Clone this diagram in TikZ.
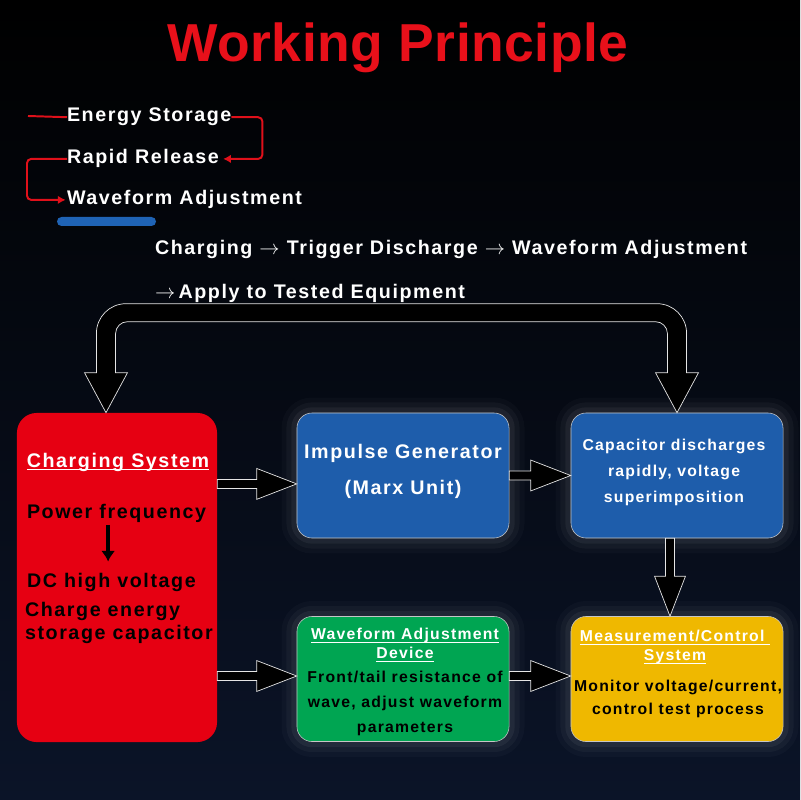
\documentclass[tikz,border=0pt]{standalone}
\usepackage{amsmath}
\usepackage{fontspec}
\setmainfont{Liberation Sans}[LetterSpace=8]
\newfontfamily\titlefont{Liberation Sans}[LetterSpace=1]
\usetikzlibrary{positioning,calc,arrows.meta}

\definecolor{titlered}{HTML}{E8101A}
\definecolor{chgred}{HTML}{E60012}
\definecolor{genblue}{HTML}{1E5DAB}
\definecolor{adjgreen}{HTML}{00A552}
\definecolor{meayellow}{HTML}{EFB800}
\definecolor{flowred}{HTML}{E0101A}
\definecolor{barblue}{HTML}{1F63B5}
\definecolor{bgnavy}{HTML}{0B1428}

\newcommand{\ra}{$\rightarrow$}

\tikzset{
  txt/.style={inner sep=0pt, outer sep=0pt, text=white},
  big/.style={font=\fontsize{14}{20}\selectfont\bfseries},
  box/.style={rounded corners=10.7pt, minimum width=5.3cm, minimum height=3.125cm, inner sep=0pt},
  glow/.style={preaction={draw=white, line width=22pt, opacity=0.025},
               preaction={draw=white, line width=15pt, opacity=0.035},
               preaction={draw=white, line width=8pt, opacity=0.05},
               draw=white!55!gray, line width=0.4pt},
  redflow/.style={draw=flowred, line width=1.4pt, rounded corners=3pt},
  redtip/.style={-{Latex[length=5.5pt,width=6pt]}},
  blackarr/.style={draw=black, line width=2.4pt, -{Latex[length=7.5pt,width=10pt]}},
  hollow/.style={draw=white!80!gray, fill=black, line width=0.5pt,
    to path={($(\tikztostart)!3.2pt!90:(\tikztotarget)$)
      -- ($($(\tikztotarget)!1cm!(\tikztostart)$)!3.2pt!90:(\tikztotarget)$)
      -- ($($(\tikztotarget)!1cm!(\tikztostart)$)!11pt!90:(\tikztotarget)$)
      -- (\tikztotarget)
      -- ($($(\tikztotarget)!1cm!(\tikztostart)$)!11pt!-90:(\tikztotarget)$)
      -- ($($(\tikztotarget)!1cm!(\tikztostart)$)!3.2pt!-90:(\tikztotarget)$)
      -- ($(\tikztostart)!3.2pt!-90:(\tikztotarget)$) -- cycle}},
}

\begin{document}
\begin{tikzpicture}[x=0.025cm, y=-0.025cm]
  \useasboundingbox (0,0) rectangle (800,800);
  \fill[top color=black, bottom color=bgnavy] (0,0) rectangle (800,800);

  % title and flow
  \node[txt, text=titlered, font=\titlefont\fontsize{38}{40}\selectfont\bfseries, anchor=base] (title) at (398,62) {Working Principle};
  \node[txt, big, anchor=base west] (es) at (67,122) {Energy Storage};
  \node[txt, big, anchor=base west] (rr) at (67,164) {Rapid Release};
  \node[txt, big, anchor=base west] (wa) at (67,205) {Waveform Adjustment};
  \coordinate (lead) at (28,116);
  \draw[redflow] (lead) -- (es.west);
  \draw[redflow, redtip] (es.east) -- ++(31,0) |- ([xshift=3pt]rr.east);
  \draw[redflow, redtip] (rr.west) -- ++(-40,0) |- ([xshift=-1pt]wa.west);
  \fill[barblue, rounded corners=3.2pt] (57,217) rectangle (156,226);

  \node[txt, big, anchor=base west] (chain) at (155,254) {Charging \ra{} Trigger Discharge \ra{} Waveform Adjustment};
  \node[txt, big, anchor=base west] (apply) at (155,298) {\ra{}\,Apply to Tested Equipment};

  % boxes
  \node[box, minimum width=5cm, minimum height=8.225cm, rounded corners=14pt, fill=chgred] (chg) at (117,577.5) {};
  \node[box, glow, fill=genblue] (imp) at (403,475.5) {};
  \node[box, glow, fill=genblue] (cap) at (677,475.5) {};
  \node[box, glow, fill=adjgreen] (wav) at (403,679) {};
  \node[box, glow, fill=meayellow] (mea) at (677,679) {};

  % charging system
  \node[txt, big, anchor=base] (chgtitle) at (118,467) {\underline{\smash[b]{Charging System}}};
  \node[txt, big, text=black, anchor=base west] (pf) at (27,518) {Power frequency};
  \node[txt, big, text=black, anchor=base west] (dc) at (27,587) {DC high voltage};
  \node[txt, text=black, font=\fontsize{14}{16.4}\selectfont\bfseries, align=left, anchor=north west] (ce) at (25,602.6) {Charge energy\\storage capacitor};
  \draw[blackarr, shorten <=2pt, shorten >=8pt] ([xshift=-6pt]pf.south) -- ([xshift=-6pt]pf.south |- dc.north);

  % other boxes
  \node[txt, font=\fontsize{14}{25.6}\selectfont\bfseries, align=center, anchor=north] (imptext) at (403,444.6) {Impulse Generator\\(Marx Unit)};
  \node[txt, font=\fontsize{11.2}{18.5}\selectfont\bfseries, align=center, anchor=north] (captext) at (674,439.5) {Capacitor discharges\\rapidly, voltage\\superimposition};
  \node[txt, font=\fontsize{11.2}{13.5}\selectfont\bfseries, align=center, anchor=north] (wavtitle) at (405,628.5) {\underline{\smash[b]{Waveform Adjustment}}\\\underline{\smash[b]{Device}}};
  \node[txt, text=black, font=\fontsize{11.2}{17.8}\selectfont\bfseries, align=center, anchor=north] (wavtext) at (405,671.5) {Front/tail resistance of\\wave, adjust waveform\\parameters};
  \node[txt, font=\fontsize{11.2}{13.5}\selectfont\bfseries, align=center, anchor=north] (meatitle) at (675,630.5) {\underline{\smash[b]{Measurement/Control~}}\\\underline{\smash[b]{System}}};
  \node[txt, text=black, font=\fontsize{11.2}{16.4}\selectfont\bfseries, align=center, anchor=north] (meatext) at (678,680.5) {Monitor voltage/current,\\control test process};

  % hollow arrows
  \coordinate (a1t) at ([yshift=-0.21cm]imp.west);
  \coordinate (a1s) at (a1t -| chg.east);
  \coordinate (a2t) at ([yshift=0.075cm]wav.west);
  \coordinate (a2s) at (a2t -| chg.east);
  \coordinate (a4t) at ([yshift=0.075cm]mea.west);
  \coordinate (a4s) at (a4t -| wav.east);
  \coordinate (a5s) at ([xshift=-0.175cm]cap.south);
  \coordinate (a5t) at (a5s |- mea.north);
  \draw[hollow] (a1s) to (a1t);
  \draw[hollow] (a2s) to (a2t);
  \draw[hollow] (imp.east) to (cap.west);
  \draw[hollow] (a4s) to (a4t);
  \draw[hollow] (a5s) to (a5t);

  % return loop
  \draw[draw=white!80!gray, fill=black, line width=0.5pt]
    let \p1=([xshift=-0.275cm]chg.north), \p2=(cap.north) in
    (\p1) -- (\x1-15.3pt,\y1+28.45pt) -- (\x1-6.8pt,\y1+28.45pt) -- (\x1-6.8pt,\y1+56.5pt)
    arc[start angle=180, end angle=90, radius=21pt] -- (\x2-14.2pt,\y1+77.5pt)
    arc[start angle=90, end angle=0, radius=21pt] -- (\x2+6.8pt,\y1+28.45pt)
    -- (\x2+15.3pt,\y1+28.45pt) -- (\x2,\y1) -- (\x2-15.3pt,\y1+28.45pt) -- (\x2-6.8pt,\y1+28.45pt)
    -- (\x2-6.8pt,\y1+56.2pt) arc[start angle=0, end angle=90, radius=8.5pt]
    -- (\x1+15.3pt,\y1+64.7pt) arc[start angle=90, end angle=180, radius=8.5pt]
    -- (\x1+6.8pt,\y1+28.45pt) -- (\x1+15.3pt,\y1+28.45pt) -- cycle;
\end{tikzpicture}
\end{document}
